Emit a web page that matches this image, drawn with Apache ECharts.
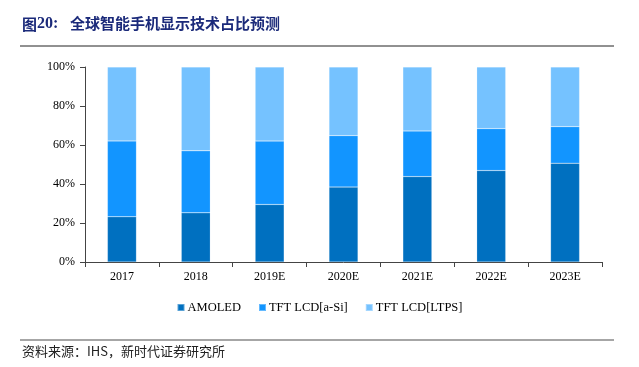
<!DOCTYPE html>
<html>
<head>
<meta charset="utf-8">
<script src="https://cdn.jsdelivr.net/npm/echarts@6/dist/echarts.min.js"></script>
<style>
html,body{margin:0;padding:0;background:#fff;}
#main{width:639px;height:367px;}
</style>
</head>
<body>
<div id="main"></div>
<script>
// 数据
var years = ['2017', '2018', '2019E', '2020E', '2021E', '2022E', '2023E'];
var amoled = [23.2, 25.2, 29.5, 38.4, 43.8, 46.9, 50.7];
var aSi = [38.9, 31.8, 32.5, 26.4, 23.4, 21.5, 18.7];
var ltps = [37.9, 43.0, 38.0, 35.2, 32.8, 31.6, 30.6];
var seriesNames = ['AMOLED', 'TFT LCD[a-Si]', 'TFT LCD[LTPS]'];
var colors = ['#0070C0', '#1295FF', '#75C2FF'];

var chart = echarts.init(document.getElementById('main'));
var serif = '"Liberation Serif", "Times New Roman", serif';
var cjk = '"Noto Sans CJK SC", sans-serif';

function makeSeries(name, data, idx) {
	return {
		name: name,
		type: 'bar',
		stack: 'total',
		barWidth: 29,
		data: data,
		itemStyle: {
			color: colors[idx],
			borderColor: 'rgba(255,255,255,0.35)',
			borderWidth: 0.5
		}
	};
}

var option = {
	animation: false,
	color: colors,
	grid: {
		left: 85,
		right: 37,
		top: 67,
		bottom: 105
	},
	legend: {
		bottom: 48,
		left: 'center',
		itemWidth: 7,
		itemHeight: 7,
		itemGap: 17,
		icon: 'rect',
		textStyle: {
			fontFamily: serif,
			fontSize: 12.5,
			color: '#000',
			padding: [0, 0, 0, -2]
		},
		data: seriesNames
	},
	xAxis: {
		type: 'category',
		data: years,
		axisLine: { lineStyle: { color: '#444', width: 1 } },
		axisTick: { show: true, length: 5, lineStyle: { color: '#444' } },
		axisLabel: {
			fontFamily: serif,
			fontSize: 12,
			color: '#000',
			margin: 9
		}
	},
	yAxis: {
		type: 'value',
		min: 0,
		max: 100,
		interval: 20,
		axisLine: { show: true, lineStyle: { color: '#444', width: 1 } },
		axisTick: { show: true, length: 5, lineStyle: { color: '#444' } },
		splitLine: { show: false },
		axisLabel: {
			fontFamily: serif,
			fontSize: 12,
			color: '#000',
			margin: 10,
			formatter: '{value}%'
		}
	},
	series: [
		makeSeries(seriesNames[0], amoled, 0),
		makeSeries(seriesNames[1], aSi, 1),
		makeSeries(seriesNames[2], ltps, 2)
	],
	graphic: [
		{
			type: 'text',
			left: 22,
			top: 16,
			style: {
				text: '{a|图}{b|20:}',
				rich: {
					a: { font: 'bold 15px ' + cjk, fill: '#1B2A7A' },
					b: { font: 'bold 16px ' + serif, fill: '#1B2A7A' }
				}
			}
		},
		{
			type: 'text',
			left: 70,
			top: 16,
			style: {
				text: '全球智能手机显示技术占比预测',
				font: 'bold 15px ' + cjk,
				fill: '#1B2A7A'
			}
		},
		{
			type: 'line',
			shape: { x1: 20, y1: 46, x2: 614, y2: 46 },
			style: { stroke: '#222', lineWidth: 1 }
		},
		{
			type: 'line',
			shape: { x1: 20, y1: 340, x2: 614, y2: 340 },
			style: { stroke: '#888', lineWidth: 1.5 }
		},
		{
			type: 'text',
			left: 22,
			top: 345,
			style: {
				text: '资料来源：IHS，新时代证券研究所',
				font: '13px ' + cjk,
				fill: '#222'
			}
		}
	]
};

chart.setOption(option);
</script>
</body>
</html>
